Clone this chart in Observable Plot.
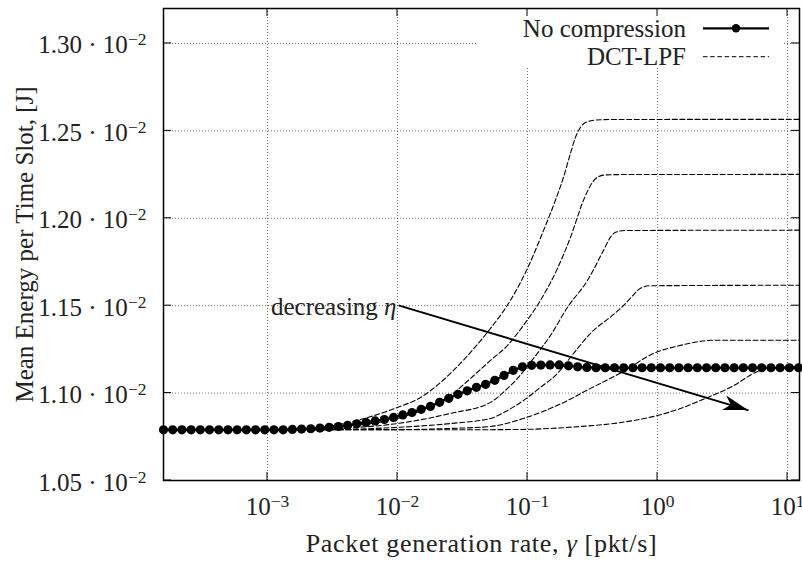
<!DOCTYPE html>
<html><head><meta charset="utf-8">
<script src="https://cdn.jsdelivr.net/npm/d3@7"></script>
<script src="https://cdn.jsdelivr.net/npm/@observablehq/plot@0.6"></script>
<style>body{margin:0;background:#fff}</style>
</head><body><div id="chart"></div>
<script>
// ---------- data ----------
const ncGamma = [1.585e-4,1.866e-4,2.196e-4,2.585e-4,3.043e-4,3.581e-4,4.215e-4,4.962e-4,5.840e-4,6.874e-4,
  8.091e-4,9.524e-4,1.121e-3,1.319e-3,1.553e-3,1.828e-3,2.151e-3,2.532e-3,2.980e-3,3.508e-3,
  4.129e-3,4.860e-3,5.720e-3,6.733e-3,7.925e-3,9.328e-3,1.098e-2,1.292e-2,1.521e-2,1.790e-2,
  2.107e-2,2.480e-2,2.920e-2,3.437e-2,4.045e-2,4.761e-2,5.604e-2,6.596e-2,7.764e-2,9.138e-2,
  0.1076,0.1266,0.1490,0.1754,0.2065,0.2430,0.2860,0.3367,0.3963,0.4665,
  0.5491,0.6463,0.7607,0.8954,1.054,1.241,1.460,1.719,2.023,2.381,
  2.803,3.299,3.883,4.570,5.379,6.332,7.453,8.772,10.33,12.16];
const ncEnergy = [1.0790e-2,1.0790e-2,1.0790e-2,1.0790e-2,1.0790e-2,1.0790e-2,1.0790e-2,1.0790e-2,1.0790e-2,1.0790e-2,
  1.0790e-2,1.0790e-2,1.0790e-2,1.0790e-2,1.0792e-2,1.0794e-2,1.0796e-2,1.0800e-2,1.0804e-2,1.0809e-2,
  1.0815e-2,1.0824e-2,1.0832e-2,1.0841e-2,1.0849e-2,1.0861e-2,1.0875e-2,1.0889e-2,1.0907e-2,1.0924e-2,
  1.0947e-2,1.0970e-2,1.0993e-2,1.1013e-2,1.1033e-2,1.1050e-2,1.1073e-2,1.1101e-2,1.1130e-2,1.1150e-2,
  1.1159e-2,1.1160e-2,1.1161e-2,1.1161e-2,1.1156e-2,1.1150e-2,1.1147e-2,1.1145e-2,1.1145e-2,1.1145e-2,
  1.1145e-2,1.1145e-2,1.1145e-2,1.1145e-2,1.1145e-2,1.1145e-2,1.1145e-2,1.1145e-2,1.1145e-2,1.1145e-2,
  1.1145e-2,1.1145e-2,1.1145e-2,1.1145e-2,1.1145e-2,1.1145e-2,1.1145e-2,1.1145e-2,1.1145e-2,1.1145e-2];

const dct1Gamma = [1.585e-4,8.83e-4,1.795e-3,3.055e-3,5.19e-3,1.0e-2,1.503e-2,2.558e-2,3.643e-2,5.19e-2,7.40e-2,0.100,0.1303,0.1641,0.1892,0.2143,0.2341,0.2558,0.2897,0.3337,0.4350,12.36];
const dct1Energy = [1.0790e-2,1.0791e-2,1.0795e-2,1.0812e-2,1.0849e-2,1.0918e-2,1.0975e-2,1.1113e-2,1.1233e-2,1.1370e-2,1.1531e-2,1.1714e-2,1.1915e-2,1.2104e-2,1.2235e-2,1.2373e-2,1.2464e-2,1.2521e-2,1.2553e-2,1.2562e-2,1.2565e-2,1.2566e-2];
const dct2Gamma = [1.585e-4,1.259e-3,3.055e-3,1.0e-2,1.795e-2,2.558e-2,3.643e-2,5.19e-2,7.02e-2,9.31e-2,0.1259,0.1702,0.2143,0.2698,0.3055,0.3455,0.3983,0.5192,12.36];
const dct2Energy = [1.0790e-2,1.0791e-2,1.0804e-2,1.0855e-2,1.0924e-2,1.0987e-2,1.1084e-2,1.1187e-2,1.1273e-2,1.1388e-2,1.1531e-2,1.1714e-2,1.1892e-2,1.2104e-2,1.2189e-2,1.2235e-2,1.2248e-2,1.2250e-2,1.2251e-2];
const dct3Gamma = [1.585e-4,1.795e-3,4.35e-3,1.0e-2,2.558e-2,5.19e-2,7.02e-2,8.37e-2,0.1112,0.1503,0.2032,0.2897,0.3846,0.4350,0.4753,0.5672,12.36];
const dct3Energy = [1.0790e-2,1.0791e-2,1.0801e-2,1.0826e-2,1.0884e-2,1.0947e-2,1.1027e-2,1.1084e-2,1.1199e-2,1.1330e-2,1.1491e-2,1.1645e-2,1.1817e-2,1.1892e-2,1.1920e-2,1.1930e-2,1.1932e-2];
const dct4Gamma = [1.585e-4,2.558e-3,1.0e-2,2.558e-2,5.19e-2,7.02e-2,9.31e-2,0.1259,0.1702,0.2261,0.3055,0.4590,0.5474,0.6535,0.7400,0.8830,12.36];
const dct4Energy = [1.0790e-2,1.0791e-2,1.0804e-2,1.0826e-2,1.0855e-2,1.0901e-2,1.0958e-2,1.1033e-2,1.1113e-2,1.1227e-2,1.1342e-2,1.1450e-2,1.1500e-2,1.1562e-2,1.1600e-2,1.1614e-2,1.1617e-2];
const dct5Gamma = [1.585e-4,1.0e-2,2.558e-2,5.19e-2,9.31e-2,0.1702,0.3055,0.5474,0.931,1.503,2.143,2.558,12.36];
const dct5Energy = [1.0790e-2,1.0791e-2,1.0798e-2,1.0809e-2,1.0855e-2,1.0930e-2,1.1027e-2,1.1124e-2,1.1227e-2,1.1273e-2,1.1296e-2,1.1302e-2,1.1302e-2];
const dct6Gamma = [1.585e-4,2.558e-2,8.83e-2,0.2558,0.4590,1.0,1.503,2.425,3.643,6.20,8.83,12.36];
const dct6Energy = [1.0790e-2,1.0790e-2,1.0792e-2,1.0809e-2,1.0826e-2,1.0872e-2,1.0912e-2,1.0975e-2,1.1033e-2,1.1130e-2,1.1147e-2,1.1150e-2];

const xDomain = [1.585e-4, 12.36];
const yDomain = [1.05e-2, 1.32e-2];
const xTickValues = [1e-3, 1e-2, 1e-1, 1, 10];
const xTickLabels = ["10^−3", "10^−2", "10^−1", "10^0", "10^1"];
const yTickValues = [1.05e-2, 1.10e-2, 1.15e-2, 1.20e-2, 1.25e-2, 1.30e-2];
const yTickLabels = ["1.05 · 10^−2", "1.10 · 10^−2", "1.15 · 10^−2", "1.20 · 10^−2", "1.25 · 10^−2", "1.30 · 10^−2"];
const legendLabels = ["No compression", "DCT-LPF"];
const arrowGamma = [1.018e-2, 5.01];
const arrowEnergy = [1.1502e-2, 1.0901e-2];
const annotation = "decreasing η";
const xLabel = "Packet generation rate, γ [pkt/s]";
const yLabel = "Mean Energy per Time Slot, [J]";

// ---------- tables ----------
const nc = ncGamma.map((g, i) => ({gamma: g, energy: ncEnergy[i]}));
const dct = [];
[[dct1Gamma, dct1Energy], [dct2Gamma, dct2Energy], [dct3Gamma, dct3Energy],
 [dct4Gamma, dct4Energy], [dct5Gamma, dct5Energy], [dct6Gamma, dct6Energy]].forEach(([G, E], k) => {
  G.forEach((g, i) => dct.push({curve: k, gamma: g, energy: E[i]}));
});
const arrow = [{x1: arrowGamma[0], y1: arrowEnergy[0], x2: arrowGamma[1], y2: arrowEnergy[1]}];

const NS = "http://www.w3.org/2000/svg";
const TICK = 8;

function frameBox(dims) {
  const d = dims || {width: 802, height: 562, marginLeft: 163, marginRight: 3, marginTop: 8, marginBottom: 82};
  return {l: d.marginLeft, r: d.width - d.marginRight, t: d.marginTop, b: d.height - d.marginBottom};
}

// white key box with samples and labels (drawn under the ticks)
function legendMark(index, scales, values, dims) {
  const f = frameBox(dims);
  const g = d3.create("svg:g");
  g.append("rect").attr("x", 478).attr("y", f.t + 1).attr("width", f.r - 17 - 478).attr("height", 58).attr("fill", "white");
  const rows = [28.3, 56.7];
  const textX = 686, s1 = 703, s2 = 769;
  legendLabels.forEach((lab, k) => {
    g.append("text").attr("x", textX).attr("y", rows[k]).attr("dy", "0.33em")
      .attr("text-anchor", "end").attr("fill", "#222").text(lab);
  });
  g.append("line").attr("x1", s1).attr("x2", s2).attr("y1", rows[0]).attr("y2", rows[0])
    .attr("stroke", "black").attr("stroke-width", 2.2);
  g.append("circle").attr("cx", (s1 + s2) / 2).attr("cy", rows[0]).attr("r", 4.2).attr("fill", "black");
  g.append("line").attr("x1", s1).attr("x2", s2).attr("y1", rows[1]).attr("y2", rows[1])
    .attr("stroke", "black").attr("stroke-width", 1).attr("stroke-dasharray", "4.5,2.7");
  return g.node();
}

// inward ticks on all four sides
function tickMarks(index, scales, values, dims) {
  const f = frameBox(dims);
  const g = d3.create("svg:g").attr("stroke", "black").attr("stroke-width", 1);
  for (const v of xTickValues) {
    const x = scales.x(v);
    g.append("line").attr("x1", x).attr("x2", x).attr("y1", f.b).attr("y2", f.b - TICK);
    g.append("line").attr("x1", x).attr("x2", x).attr("y1", f.t).attr("y2", f.t + TICK);
  }
  for (const v of yTickValues) {
    const y = scales.y(v);
    g.append("line").attr("x1", f.l).attr("x2", f.l + TICK).attr("y1", y).attr("y2", y);
    g.append("line").attr("x1", f.r).attr("x2", f.r - TICK).attr("y1", y).attr("y2", y);
  }
  return g.node();
}

// filled arrow head at the end of the annotation arrow
function arrowHead(index, scales) {
  const X0 = scales.x(arrowGamma[0]), Y0 = scales.y(arrowEnergy[0]);
  const X1 = scales.x(arrowGamma[1]), Y1 = scales.y(arrowEnergy[1]);
  const ang = Math.atan2(Y1 - Y0, X1 - X0) * 180 / Math.PI;
  const g = d3.create("svg:g");
  g.append("path").attr("d", "M0,0L-25,-7.5L-18,0L-25,7.5Z").attr("fill", "black")
    .attr("transform", `translate(${X1},${Y1}) rotate(${ang})`);
  return g.node();
}

const grid = {stroke: "#444", strokeWidth: 0.9, strokeDasharray: "1,2", strokeOpacity: 0.85};

const svg = Plot.plot({
  width: 802,
  height: 562,
  marginLeft: 163,
  marginRight: 3,
  marginTop: 8,
  marginBottom: 82,
  style: {fontFamily: "'Liberation Serif', 'DejaVu Serif', serif", fontSize: "25px", color: "#222", background: "white"},
  x: {type: "log", domain: xDomain},
  y: {domain: yDomain},
  marks: [
    Plot.ruleX(xTickValues, grid),
    Plot.ruleY(yTickValues, grid),
    legendMark,
    Plot.line(dct, {x: "gamma", y: "energy", z: "curve", stroke: "black", strokeWidth: 1.1,
      strokeDasharray: "5,2.6", curve: "monotone-x"}),
    Plot.line(nc, {x: "gamma", y: "energy", stroke: "black", strokeWidth: 2.2}),
    Plot.dot(nc, {x: "gamma", y: "energy", r: 4.6, fill: "black"}),
    Plot.link(arrow, {x1: "x1", y1: "y1", x2: "x2", y2: "y2", stroke: "black", strokeWidth: 2}),
    arrowHead,
    Plot.text([annotation], {x: () => arrowGamma[0], y: () => arrowEnergy[0], text: d => d,
      textAnchor: "end", lineAnchor: "middle", dx: -2, dy: 2, fill: "#222"}),
    Plot.frame({stroke: "black", strokeWidth: 1.5}),
    tickMarks,
    Plot.axisX({ticks: xTickValues, tickFormat: d => xTickLabels[xTickValues.indexOf(d)],
      tickSize: 0, tickPadding: 17, label: null}),
    Plot.axisY({ticks: yTickValues, tickFormat: d => yTickLabels[yTickValues.indexOf(d)],
      tickSize: 0, tickPadding: 17, dy: 2, label: null}),
    Plot.text([xLabel], {frameAnchor: "bottom", dy: 63, text: d => d, textAnchor: "middle",
      lineAnchor: "middle", fontSize: 26, fill: "#222"}),
    Plot.text([yLabel], {frameAnchor: "left", dx: -139, rotate: -90, text: d => d, textAnchor: "middle",
      lineAnchor: "middle", fontSize: 25, fill: "#222"})
  ]
});

// superscripts and italic math letters as tspans
function richText(el, str) {
  el.textContent = "";
  let base = str, sup = null;
  const k = str.indexOf("^");
  if (k >= 0) { base = str.slice(0, k); sup = str.slice(k + 1); }
  for (const p of base.split(/([ηγ])/)) {
    if (!p) continue;
    const t = document.createElementNS(NS, "tspan");
    if (/[ηγ]/.test(p)) t.setAttribute("font-style", "italic");
    t.textContent = p;
    el.appendChild(t);
  }
  if (sup) {
    const t = document.createElementNS(NS, "tspan");
    t.setAttribute("font-size", "17.5px");
    t.setAttribute("dy", "-8");
    t.textContent = sup;
    el.appendChild(t);
  }
}
svg.querySelectorAll("text").forEach(el => {
  const s = el.textContent;
  if (s.includes("^") || /[ηγ]/.test(s)) richText(el, s);
  if (s === xLabel) el.setAttribute("letter-spacing", "0.7");
});

document.getElementById("chart").appendChild(svg);
</script>
</body></html>
